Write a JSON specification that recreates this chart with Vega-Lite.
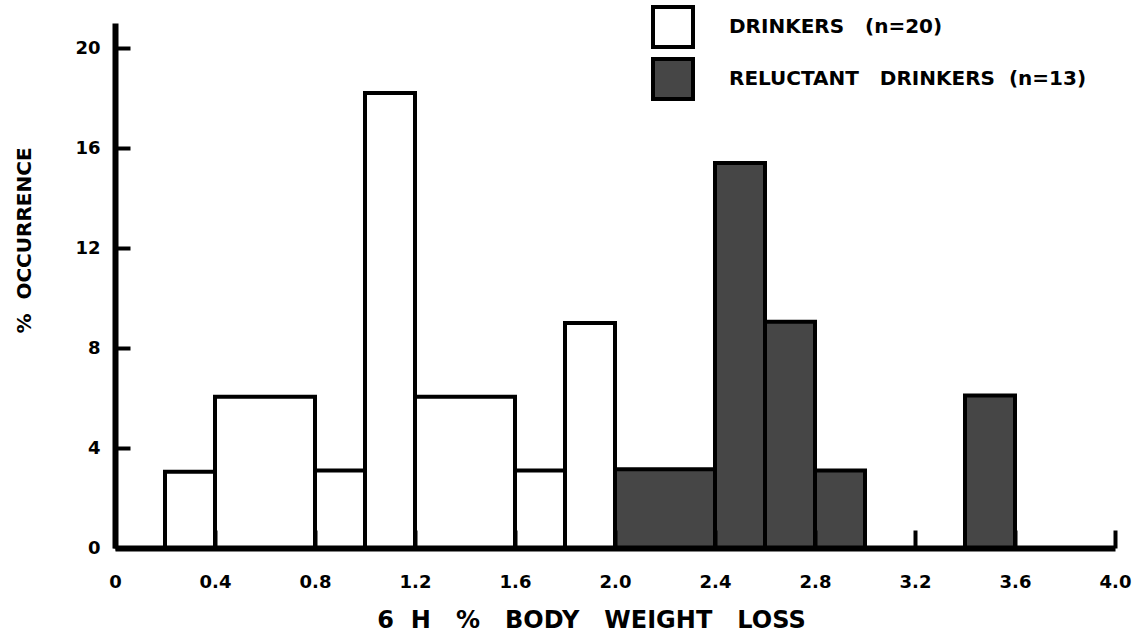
{
  "$schema": "https://vega.github.io/schema/vega-lite/v6.json",
  "width": 1000,
  "height": 525,
  "autosize": {"type": "none"},
  "padding": {"left": 115, "top": 23, "right": 21, "bottom": 88},
  "background": "white",
  "config": {"view": {"stroke": null}, "font": "DejaVu Sans"},
  "data": {
    "values": [
      {"group": "DRINKERS\u00a0\u00a0\u00a0(n=20)", "start": 0.2, "end": 0.4, "pct": 3.05},
      {"group": "DRINKERS\u00a0\u00a0\u00a0(n=20)", "start": 0.4, "end": 0.8, "pct": 6.05},
      {"group": "DRINKERS\u00a0\u00a0\u00a0(n=20)", "start": 0.8, "end": 1.0, "pct": 3.1},
      {"group": "DRINKERS\u00a0\u00a0\u00a0(n=20)", "start": 1.0, "end": 1.2, "pct": 18.2},
      {"group": "DRINKERS\u00a0\u00a0\u00a0(n=20)", "start": 1.2, "end": 1.6, "pct": 6.05},
      {"group": "DRINKERS\u00a0\u00a0\u00a0(n=20)", "start": 1.6, "end": 1.8, "pct": 3.1},
      {"group": "DRINKERS\u00a0\u00a0\u00a0(n=20)", "start": 1.8, "end": 2.0, "pct": 9.0},
      {"group": "RELUCTANT\u00a0\u00a0\u00a0DRINKERS\u00a0\u00a0(n=13)", "start": 2.0, "end": 2.4, "pct": 3.15},
      {"group": "RELUCTANT\u00a0\u00a0\u00a0DRINKERS\u00a0\u00a0(n=13)", "start": 2.4, "end": 2.6, "pct": 15.4},
      {"group": "RELUCTANT\u00a0\u00a0\u00a0DRINKERS\u00a0\u00a0(n=13)", "start": 2.6, "end": 2.8, "pct": 9.05},
      {"group": "RELUCTANT\u00a0\u00a0\u00a0DRINKERS\u00a0\u00a0(n=13)", "start": 2.8, "end": 3.0, "pct": 3.1},
      {"group": "RELUCTANT\u00a0\u00a0\u00a0DRINKERS\u00a0\u00a0(n=13)", "start": 3.4, "end": 3.6, "pct": 6.1}
    ]
  },
  "mark": {"type": "rect", "stroke": "black", "strokeWidth": 4},
  "encoding": {
    "x": {
      "field": "start",
      "type": "quantitative",
      "scale": {"domain": [0, 4], "nice": false, "zero": false},
      "axis": {
        "zindex": 1,
        "values": [0, 0.4, 0.8, 1.2, 1.6, 2.0, 2.4, 2.8, 3.2, 3.6, 4.0],
        "labelExpr": "datum.value == 0 ? '0' : format(datum.value, '.1f')",
        "grid": false,
        "domainColor": "black",
        "domainWidth": 6,
        "tickColor": "black",
        "tickWidth": 4,
        "tickSize": -18,
        "labelPadding": 43,
        "labelFont": "DejaVu Sans",
        "labelFontWeight": "bold",
        "labelFontSize": 18,
        "labelColor": "black",
        "labelFlush": false,
        "labelOverlap": false,
        "title": "6\u00a0\u00a0H\u00a0\u00a0\u00a0%\u00a0\u00a0\u00a0BODY\u00a0\u00a0\u00a0WEIGHT\u00a0\u00a0\u00a0LOSS",
        "titleFont": "DejaVu Sans",
        "titleFontSize": 24,
        "titleFontWeight": "bold",
        "titleColor": "black",
        "titleX": 476,
        "titleY": 79,
        "titleAlign": "center",
        "titleBaseline": "alphabetic"
      }
    },
    "x2": {"field": "end"},
    "y": {
      "field": "pct",
      "type": "quantitative",
      "scale": {"domain": [0, 21], "nice": false},
      "axis": {
        "zindex": 1,
        "values": [0, 4, 8, 12, 16, 20],
        "grid": false,
        "domainColor": "black",
        "domainWidth": 6,
        "tickColor": "black",
        "tickWidth": 4,
        "tickSize": -15,
        "labelPadding": 30,
        "labelFont": "DejaVu Sans",
        "labelFontWeight": "bold",
        "labelFontSize": 18,
        "labelColor": "black",
        "labelFlush": false,
        "labelOverlap": false,
        "title": "%\u00a0\u00a0OCCURRENCE",
        "titleFont": "DejaVu Sans",
        "titleFontSize": 20,
        "titleFontWeight": "bold",
        "titleColor": "black",
        "titleAngle": 270,
        "titleX": -91,
        "titleY": 217,
        "titleAlign": "center",
        "titleBaseline": "middle"
      }
    },
    "y2": {"datum": 0},
    "fill": {
      "field": "group",
      "type": "nominal",
      "scale": {
        "domain": ["DRINKERS\u00a0\u00a0\u00a0(n=20)", "RELUCTANT\u00a0\u00a0\u00a0DRINKERS\u00a0\u00a0(n=13)"],
        "range": ["white", "#464646"]
      },
      "legend": {
        "orient": "none",
        "legendX": 536,
        "legendY": -18,
        "title": null,
        "symbolType": "square",
        "symbolSize": 1600,
        "symbolStrokeColor": "black",
        "symbolStrokeWidth": 4,
        "symbolOpacity": 1,
        "labelFont": "DejaVu Sans",
        "labelFontWeight": "bold",
        "labelFontSize": 20,
        "labelColor": "black",
        "labelOffset": 34,
        "labelLimit": 0,
        "rowPadding": -4,
        "padding": 0
      }
    }
  }
}
